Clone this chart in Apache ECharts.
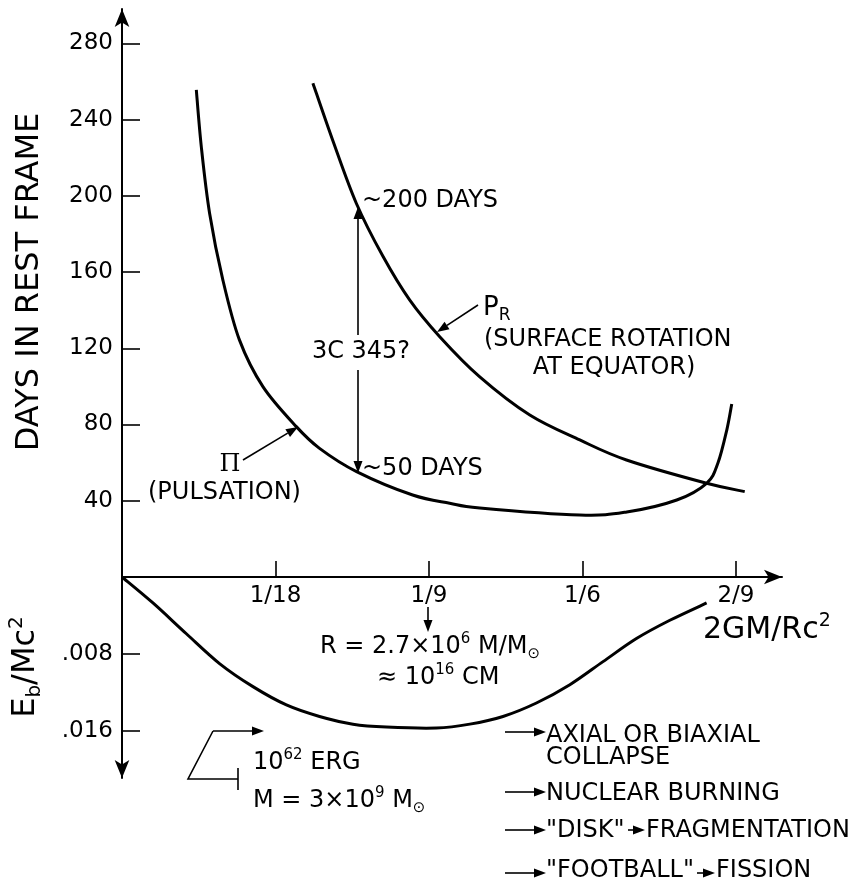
<!DOCTYPE html>
<html>
<head>
<meta charset="utf-8">
<title>Periods and binding energy vs 2GM/Rc2</title>
<script src="https://cdn.jsdelivr.net/npm/echarts@6/dist/echarts.min.js"></script>
<style>
  html, body { margin: 0; padding: 0; background: #fff; }
  #main { width: 853px; height: 883px; }
</style>
</head>
<body>
<div id="main"></div>
<script>
// x is 2GM/Rc^2
var xTicks = [1/18, 2/18, 3/18, 4/18];
var xTickLabels = ['1/18', '1/9', '1/6', '2/9'];
var dayTicks = [40, 80, 120, 160, 200, 240, 280];
var ebTicks = [0.008, 0.016];
var ebTickLabels = ['.008', '.016'];

// PI (pulsation) period, days in rest frame
var piX    = [0.0269, 0.0287, 0.0317, 0.0365, 0.0425, 0.0510, 0.0631, 0.0715, 0.0849, 0.1052, 0.1186, 0.1295, 0.1657, 0.1827, 0.2008, 0.2117, 0.2157, 0.2189, 0.2207];
var piDays = [255.6, 225.8, 190.9, 155.9, 124.4, 99.9, 78.9, 67.5, 55.3, 43, 38.7, 36.2, 32.5, 34.1, 40.4, 49.3, 59.8, 77.1, 90.8];

// P_R (surface rotation at equator), days
var prX    = [0.0691, 0.0763, 0.0848, 0.0945, 0.1041, 0.1150, 0.1295, 0.1476, 0.1657, 0.1826, 0.2116, 0.2254];
var prDays = [259.1, 229, 196.1, 168.1, 145.4, 126.1, 105, 85, 71.9, 61.4, 49.2, 44.8];

// binding energy Eb/Mc^2
var ebX   = [0, 0.0112, 0.0233, 0.0353, 0.0474, 0.0595, 0.0715, 0.0836, 0.0957, 0.1138, 0.1259, 0.1379, 0.1500, 0.1621, 0.1741, 0.1862, 0.1983, 0.2116];
var ebVal = [0, 0.0027, 0.0059, 0.0090, 0.0114, 0.0133, 0.0145, 0.0153, 0.0156, 0.0157, 0.0153, 0.0145, 0.0131, 0.0112, 0.0088, 0.0064, 0.0045, 0.0027];

function zip(a, b) {
    return a.map(function (v, i) { return [v, b[i]]; });
}

// draws one smooth curve (catmull-rom through the points) for the whole series
function splineItem(xs, ys) {
    return function (params, api) {
        if (params.dataIndex !== 0) return null;
        var p = xs.map(function (x, i) { return api.coord([x, ys[i]]); });
        var d = 'M' + p[0][0] + ' ' + p[0][1];
        for (var i = 0; i < p.length - 1; i++) {
            var p0 = p[i - 1] || p[i], p1 = p[i], p2 = p[i + 1], p3 = p[i + 2] || p[i + 1];
            var c1x = p1[0] + (p2[0] - p0[0]) / 6, c1y = p1[1] + (p2[1] - p0[1]) / 6;
            var c2x = p2[0] - (p3[0] - p1[0]) / 6, c2y = p2[1] - (p3[1] - p1[1]) / 6;
            d += ' C' + c1x + ' ' + c1y + ' ' + c2x + ' ' + c2y + ' ' + p2[0] + ' ' + p2[1];
        }
        return {
            type: 'path',
            shape: { pathData: d },
            style: { stroke: '#000', lineWidth: 3, fill: null }
        };
    };
}

var FONT = 'DejaVu Sans';

function txt(x, y, text, size, opt) {
    opt = opt || {};
    return {
        type: 'text', x: x, y: y,
        rotation: opt.rotation || 0,
        z: 10,
        style: {
            text: text,
            fontFamily: opt.family || FONT,
            fontSize: size,
            fill: '#000',
            align: opt.align || 'left',
            verticalAlign: 'middle',
            rich: opt.rich
        }
    };
}

function arrow(x1, y1, x2, y2) {
    var a = Math.atan2(y2 - y1, x2 - x1), L = 12, W = 4.5;
    var bx = x2 - L * Math.cos(a), by = y2 - L * Math.sin(a);
    var px = -Math.sin(a) * W, py = Math.cos(a) * W;
    return [
        { type: 'line', shape: { x1: x1, y1: y1, x2: bx, y2: by }, style: { stroke: '#000', lineWidth: 1.6 } },
        { type: 'polygon', shape: { points: [[x2, y2], [bx + px, by + py], [bx - px, by - py]] }, style: { fill: '#000' } }
    ];
}

// rich styles for sub/superscripts
function richSet(size) {
    var small = Math.round(size * 0.64);
    return {
        n: { fontFamily: FONT, fontSize: size, lineHeight: size + 6, verticalAlign: 'middle' },
        sup: { fontFamily: FONT, fontSize: small, lineHeight: small, verticalAlign: 'top' },
        sub: { fontFamily: FONT, fontSize: small, lineHeight: small, verticalAlign: 'bottom' }
    };
}

var graphics = [];
graphics.push(txt(30, 282, 'DAYS IN REST FRAME', 32, { rotation: Math.PI / 2, align: 'center' }));
graphics.push(txt(26, 667, '{n|E}{sub|b}{n|/Mc}{sup|2}', 32, { rotation: Math.PI / 2, align: 'center', rich: richSet(32) }));
graphics.push(txt(362, 201, '~200 DAYS', 24));
graphics.push(txt(362, 469, '~50 DAYS', 24));
graphics.push(txt(361, 352, '3C 345?', 24, { align: 'center' }));
graphics.push(txt(483, 308, '{n|P}{sub|R}', 26, { rich: richSet(26) }));
graphics.push(txt(484, 340, '(SURFACE ROTATION', 24));
graphics.push(txt(614, 368, 'AT EQUATOR)', 24, { align: 'center' }));
graphics.push(txt(230, 465, '\u03A0', 24, { align: 'center', family: 'DejaVu Serif' }));
graphics.push(txt(148, 493, '(PULSATION)', 24));
graphics.push(txt(320, 647, '{n|R = 2.7\u00D710}{sup|6}{n| M/M}{sub|\u2299}', 24, { rich: richSet(24) }));
graphics.push(txt(377, 678, '{n|\u2248 10}{sup|16}{n| CM}', 24, { rich: richSet(24) }));
graphics.push(txt(703, 630, '{n|2GM/Rc}{sup|2}', 30, { rich: richSet(30) }));
graphics.push(txt(253, 763, '{n|10}{sup|62}{n| ERG}', 24, { rich: richSet(24) }));
graphics.push(txt(253, 801, '{n|M = 3\u00D710}{sup|9}{n| M}{sub|\u2299}', 24, { rich: richSet(24) }));
graphics.push(txt(546, 736, 'AXIAL OR BIAXIAL', 24));
graphics.push(txt(546, 758, 'COLLAPSE', 24));
graphics.push(txt(546, 794, 'NUCLEAR BURNING', 24));
graphics.push(txt(546, 831, '"DISK"', 24));
graphics.push(txt(646, 831, 'FRAGMENTATION', 24));
graphics.push(txt(546, 871, '"FOOTBALL"', 24));
graphics.push(txt(716, 871, 'FISSION', 24));

// arrows
graphics = graphics.concat(
    arrow(358, 335, 358, 207),
    arrow(358, 370, 358, 473),
    arrow(243, 460, 298, 427),
    arrow(478, 305, 437, 332),
    arrow(428, 607, 428, 632),
    arrow(213, 731, 264, 731),
    arrow(505, 732, 546, 732),
    arrow(505, 792, 546, 792),
    arrow(505, 830, 546, 830),
    arrow(628, 830, 645, 830),
    arrow(505, 873, 546, 873),
    arrow(697, 873, 715, 873)
);
graphics.push({ type: 'polyline', shape: { points: [[213, 731], [188, 779], [238, 779]] }, style: { stroke: '#000', lineWidth: 1.6, fill: null } });
graphics.push({ type: 'line', shape: { x1: 238, y1: 768, x2: 238, y2: 790 }, style: { stroke: '#000', lineWidth: 1.6 } });

var axisLineStyle = { color: '#000', width: 2 };
var labelStyle = { color: '#000', fontFamily: FONT, fontSize: 23 };

var chart = echarts.init(document.getElementById('main'));
chart.setOption({
    animation: false,
    backgroundColor: '#fff',
    grid: [
        { left: 122, right: 71, top: 9, bottom: 306 },
        { left: 122, right: 71, top: 577, bottom: 105 }
    ],
    xAxis: [{
        gridIndex: 0, type: 'value', min: 0, max: 4.3 / 18,
        axisLine: { show: true, onZero: false, lineStyle: axisLineStyle, symbol: ['none', 'arrow'], symbolSize: [11, 18] },
        axisTick: { show: true, inside: true, length: 16, customValues: xTicks, lineStyle: { color: '#000', width: 1.6 } },
        axisLabel: Object.assign({ customValues: xTicks, margin: 8, formatter: function (v) { return xTickLabels[Math.round(v * 18) - 1]; } }, labelStyle),
        splitLine: { show: false }
    }, {
        gridIndex: 1, type: 'value', min: 0, max: 4.3 / 18, show: false
    }],
    yAxis: [{
        gridIndex: 0, type: 'value', min: 0, max: 298,
        axisLine: { show: true, onZero: false, lineStyle: axisLineStyle, symbol: ['none', 'arrow'], symbolSize: [11, 18] },
        axisTick: { show: true, inside: true, length: 18, customValues: dayTicks, lineStyle: { color: '#000', width: 1.6 } },
        axisLabel: Object.assign({ customValues: dayTicks, margin: 9 }, labelStyle),
        splitLine: { show: false }
    }, {
        gridIndex: 1, type: 'value', min: 0, max: 0.0209, inverse: true,
        axisLine: { show: true, onZero: false, lineStyle: axisLineStyle, symbol: ['arrow', 'none'], symbolSize: [11, 18] },
        axisTick: { show: true, inside: true, length: 18, customValues: ebTicks, lineStyle: { color: '#000', width: 1.6 } },
        axisLabel: Object.assign({ customValues: ebTicks, margin: 9, formatter: function (v) { return ebTickLabels[Math.round(v / 0.008) - 1]; } }, labelStyle),
        splitLine: { show: false }
    }],
    series: [{
        name: 'Pi', type: 'custom', xAxisIndex: 0, yAxisIndex: 0,
        data: zip(piX, piDays), renderItem: splineItem(piX, piDays)
    }, {
        name: 'P_R', type: 'custom', xAxisIndex: 0, yAxisIndex: 0,
        data: zip(prX, prDays), renderItem: splineItem(prX, prDays)
    }, {
        name: 'Eb', type: 'custom', xAxisIndex: 1, yAxisIndex: 1,
        data: zip(ebX, ebVal), renderItem: splineItem(ebX, ebVal)
    }],
    graphic: graphics
});
</script>
</body>
</html>
